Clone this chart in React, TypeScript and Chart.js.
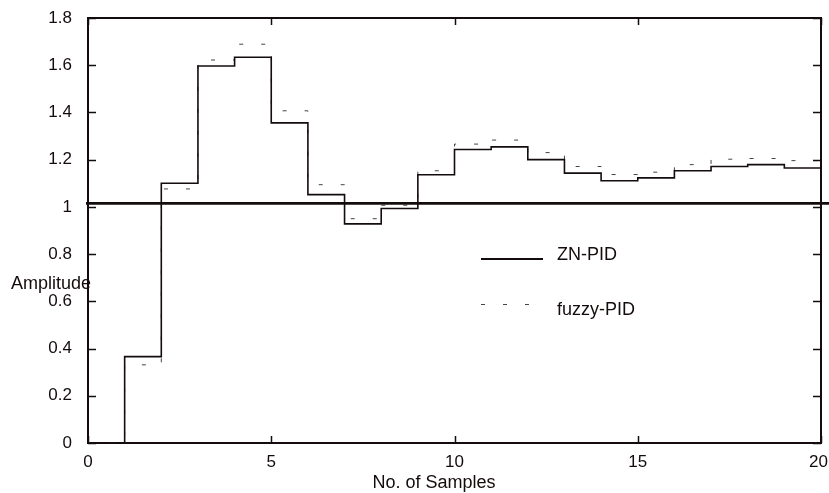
import React, { useEffect, useRef } from 'react';
import { Chart, registerables } from 'chart.js';

Chart.register(...registerables);

// ---- data ----
const samples = [0, 1, 2, 3, 4, 5, 6, 7, 8, 9, 10, 11, 12, 13, 14, 15, 16, 17, 18, 19, 20];
const znPid = [0, 0.366, 1.1, 1.597, 1.634, 1.356, 1.052, 0.928, 0.993, 1.136, 1.243, 1.254, 1.2, 1.143, 1.111, 1.123, 1.153, 1.171, 1.179, 1.165, 1.165];
const fuzzyPid = [0, 0.331, 1.076, 1.622, 1.689, 1.407, 1.094, 0.95, 1.007, 1.153, 1.266, 1.283, 1.23, 1.171, 1.137, 1.147, 1.179, 1.202, 1.205, 1.196, 1.196];
const referenceLevel = 1.015;
const xTickValues = [0, 5, 10, 15, 20];
const yTickValues = [0, 0.2, 0.4, 0.6, 0.8, 1, 1.2, 1.4, 1.6, 1.8];
const seriesLabels = ['ZN-PID', 'fuzzy-PID'];
const xTitle = 'No. of Samples';
const yTitle = 'Amplitude';

const INK = '#140c0c';
const FONT_FAMILY = '"Liberation Sans", Arial, Helvetica, sans-serif';

const framePlugin = {
  id: 'frame',
  afterDatasetsDraw(chart: any) {
    const { ctx, chartArea: a, scales } = chart;
    const xs = scales.x;
    const ys = scales.y;
    ctx.save();
    ctx.strokeStyle = INK;
    ctx.lineCap = 'butt';

    // top & right borders
    ctx.lineWidth = 2;
    ctx.beginPath();
    ctx.moveTo(a.left - 1, a.top);
    ctx.lineTo(a.right, a.top);
    ctx.moveTo(a.right, a.top - 1);
    ctx.lineTo(a.right, a.bottom + 1);
    ctx.stroke();

    // inward tick marks on all four sides
    ctx.lineWidth = 1.5;
    ctx.beginPath();
    yTickValues.forEach((v) => {
      const y = Math.round(ys.getPixelForValue(v)) + 0.5;
      ctx.moveTo(a.left, y);
      ctx.lineTo(a.left + 8, y);
      ctx.moveTo(a.right, y);
      ctx.lineTo(a.right - 8, y);
    });
    xTickValues.forEach((v) => {
      const x = Math.round(xs.getPixelForValue(v)) + 0.5;
      ctx.moveTo(x, a.bottom);
      ctx.lineTo(x, a.bottom - 7);
      ctx.moveTo(x, a.top);
      ctx.lineTo(x, a.top + 7);
    });
    ctx.stroke();

    // reference (set-point) line, spanning past the frame
    const ry = ys.getPixelForValue(referenceLevel);
    ctx.lineWidth = 2.6;
    ctx.beginPath();
    ctx.moveTo(a.left - 2, ry);
    ctx.lineTo(chart.width, ry);
    ctx.stroke();

    // legend
    ctx.lineWidth = 2.2;
    ctx.beginPath();
    ctx.moveTo(481, 259);
    ctx.lineTo(543, 259);
    ctx.stroke();
    ctx.lineWidth = 1;
    ctx.strokeStyle = '#444';
    ctx.setLineDash([4, 18]);
    ctx.beginPath();
    ctx.moveTo(481, 304.5);
    ctx.lineTo(530, 304.5);
    ctx.stroke();
    ctx.setLineDash([]);

    ctx.fillStyle = INK;
    ctx.textBaseline = 'middle';

    // x tick labels (kept inside the canvas like the reference)
    ctx.font = `17px ${FONT_FAMILY}`;
    ctx.textAlign = 'center';
    xTickValues.forEach((v) => {
      const label = String(v);
      const w = ctx.measureText(label).width;
      const x = Math.min(xs.getPixelForValue(v), chart.width - w / 2 - 1);
      ctx.fillText(label, x, 462);
    });

    ctx.font = `18px ${FONT_FAMILY}`;
    ctx.textAlign = 'left';
    ctx.fillText(seriesLabels[0], 557, 255);
    ctx.fillText(seriesLabels[1], 557, 310);

    // axis titles
    ctx.fillText(yTitle, 11, 284);
    ctx.textAlign = 'center';
    ctx.fillText(xTitle, 434, 483);
    ctx.restore();
  },
};

export default function App() {
  const ref = useRef<HTMLCanvasElement>(null);
  useEffect(() => {
    document.body.style.margin = '0';
    const canvas = ref.current;
    if (!canvas) return;
    const tickFont = { family: FONT_FAMILY, size: 17 };
    const chart = new Chart(canvas, {
      type: 'line',
      data: {
        datasets: [
          {
            label: seriesLabels[0],
            data: samples.map((x, i) => ({ x, y: znPid[i] })),
            stepped: true,
            borderColor: INK,
            borderWidth: 1.6,
            pointRadius: 0,
            fill: false,
          },
          {
            label: seriesLabels[1],
            data: samples.map((x, i) => ({ x, y: fuzzyPid[i] })),
            stepped: true,
            borderColor: '#444',
            borderWidth: 1,
            borderDash: [4, 18],
            pointRadius: 0,
            fill: false,
          },
        ],
      },
      options: {
        responsive: false,
        animation: false,
        devicePixelRatio: 1,
        layout: { padding: { top: 18, right: 8, left: 0, bottom: 0 } },
        plugins: { legend: { display: false }, tooltip: { enabled: false } },
        scales: {
          x: {
            type: 'linear',
            min: 0,
            max: 20,
            grid: { display: false, drawTicks: false },
            border: { display: true, color: INK, width: 2 },
            ticks: { display: false, font: tickFont, color: INK, padding: 9, maxRotation: 0, autoSkip: false },
            afterBuildTicks: (s: any) => {
              s.ticks = xTickValues.map((v) => ({ value: v }));
            },
            afterFit: (s: any) => {
              s.height = 50;
              s.paddingLeft = 0;
              s.paddingRight = 0;
            },
          },
          y: {
            type: 'linear',
            min: 0,
            max: 1.8,
            grid: { display: false, drawTicks: false },
            border: { display: true, color: INK, width: 2 },
            ticks: {
              font: tickFont,
              color: INK,
              padding: 16,
              autoSkip: false,
              callback: (v: any) => String(Number(Number(v).toFixed(1))),
            },
            afterBuildTicks: (s: any) => {
              s.ticks = yTickValues.map((v) => ({ value: v }));
            },
            afterFit: (s: any) => {
              s.width = 88;
              s.paddingTop = 0;
              s.paddingBottom = 0;
            },
          },
        },
      },
      plugins: [framePlugin],
    });
    return () => chart.destroy();
  }, []);
  return (
    <div style={{ width: 829, height: 493, background: '#fff' }}>
      <canvas ref={ref} width={829} height={493} style={{ display: 'block' }} />
    </div>
  );
}
